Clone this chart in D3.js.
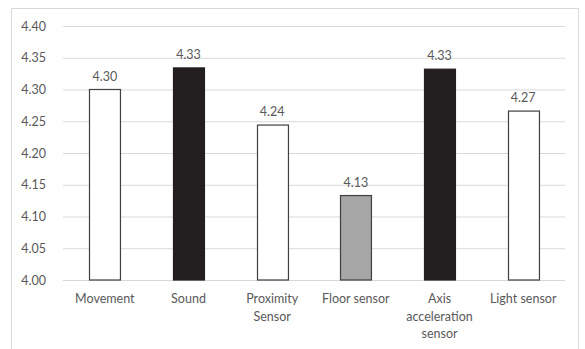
<!DOCTYPE html>
<html>
<head>
<meta charset="utf-8">
<script src="https://cdn.jsdelivr.net/npm/d3@7"></script>
<style>
  html, body { margin: 0; padding: 0; background: #fff; }
  svg { display: block; }
  text { font-family: Lato, "Open Sans", sans-serif; fill: #595959; }
</style>
</head>
<body>
<svg id="chart" width="585" height="349"></svg>
<script>
// Sensor categories, each label split into its display lines
const categories = ["Movement", "Sound", "Proximity Sensor", "Floor sensor", "Axis acceleration sensor", "Light sensor"];
const categoryLines = [["Movement"], ["Sound"], ["Proximity", "Sensor"], ["Floor sensor"], ["Axis", "acceleration", "sensor"], ["Light sensor"]];
const values = [4.30, 4.334, 4.244, 4.133, 4.332, 4.266];
const fills = ["#ffffff", "#231f20", "#ffffff", "#a6a6a6", "#231f20", "#ffffff"];
const strokes = ["#404040", "#231f20", "#404040", "#404040", "#231f20", "#404040"];
const yTicks = [4.00, 4.05, 4.10, 4.15, 4.20, 4.25, 4.30, 4.35, 4.40];

const svg = d3.select("#chart");

// chart frame
svg.append("rect")
  .attr("x", 11.5).attr("y", 8.5)
  .attr("width", 567).attr("height", 345)
  .attr("fill", "none").attr("stroke", "#d9d9d9");

const x = d3.scaleBand().domain(categories).range([63, 565]).paddingInner(0.63).paddingOuter(0.315);
const y = d3.scaleLinear().domain([4.00, 4.40]).range([280, 26]);

// horizontal gridlines and the y axis labels
const yAxis = d3.axisLeft(y).tickValues(yTicks).tickFormat(d3.format(".2f"))
  .tickSize(-(565 - 63)).tickPadding(17);
const gy = svg.append("g").attr("transform", "translate(63,0)").call(yAxis);
gy.select(".domain").remove();
gy.selectAll(".tick line").attr("stroke", "#d9d9d9").attr("stroke-width", 1);
gy.selectAll(".tick text").style("font-size", "12.5px").attr("fill", "#595959");

// bars
svg.append("g").selectAll("rect")
  .data(categories)
  .join("rect")
  .attr("x", d => Math.round(x(d)) + 0.5)
  .attr("y", (d, i) => y(values[i]))
  .attr("width", x.bandwidth())
  .attr("height", (d, i) => y(4.00) - y(values[i]))
  .attr("fill", (d, i) => fills[i])
  .attr("stroke", (d, i) => strokes[i])
  .attr("stroke-width", 1.2);

// value labels above bars
svg.append("g").selectAll("text")
  .data(categories)
  .join("text")
  .attr("x", d => x(d) + x.bandwidth() / 2)
  .attr("y", (d, i) => y(values[i]) - 9)
  .attr("text-anchor", "middle")
  .style("font-size", "12.5px")
  .text((d, i) => d3.format(".2f")(values[i]));

// category labels, wrapped over lines
const xl = svg.append("g").selectAll("text")
  .data(categories)
  .join("text")
  .attr("text-anchor", "middle")
  .style("font-size", "12.5px")
  .attr("transform", d => `translate(${x(d) + x.bandwidth() / 2},303)`);
xl.each(function(d, i) {
  d3.select(this).selectAll("tspan")
    .data(categoryLines[i])
    .join("tspan")
    .attr("x", 0)
    .attr("y", (t, j) => j * 17.5)
    .text(t => t);
});
</script>
</body>
</html>
